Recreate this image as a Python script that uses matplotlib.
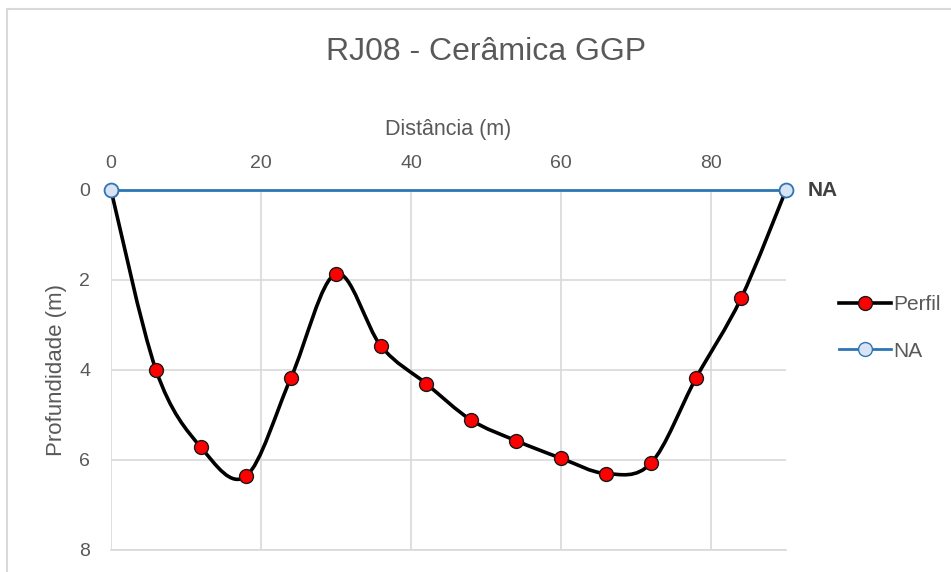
# RJ08 - Ceramica GGP profile chart

import numpy as np
import matplotlib.pyplot as plt
from matplotlib.path import Path
from matplotlib.patches import PathPatch, Rectangle
from matplotlib.lines import Line2D

plt.rcParams['font.family'] = ['Liberation Sans Narrow', 'Liberation Sans', 'DejaVu Sans']

# Data
distancia = [0, 6, 12, 18, 24, 30, 36, 42, 48, 54, 60, 66, 72, 78, 84, 90]
profundidade = [0, 4.0, 5.72, 6.36, 4.17, 1.86, 3.47, 4.30, 5.11, 5.57, 5.96, 6.30, 6.07, 4.18, 2.41, 0]
na_x = [0, 90]
na_y = [0, 0]

x_ticks = [0, 20, 40, 60, 80]
y_ticks = [0, 2, 4, 6, 8]

grey = '#595959'
blue = '#2e75b6'

fig = plt.figure(figsize=(9.51, 5.72), dpi=100)
# chart border
fig.patches.append(Rectangle((7 / 951, -0.1), 1.2, 1 - 9 / 572 + 0.1, transform=fig.transFigure,
                             fill=False, edgecolor='#d9d9d9', linewidth=1.5))

ax = fig.add_axes([111 / 951, 1 - 550 / 572, (786 - 111) / 951, (550 - 190) / 572])

# smoothed line like Excel (cardinal spline drawn as bezier)
x = np.array(distancia, dtype=float)
y = np.array(profundidade, dtype=float)
verts = [(x[0], y[0])]
codes = [Path.MOVETO]
n = len(x)
for i in range(n - 1):
    p0 = np.array([x[max(i - 1, 0)], y[max(i - 1, 0)]])
    p1 = np.array([x[i], y[i]])
    p2 = np.array([x[i + 1], y[i + 1]])
    p3 = np.array([x[min(i + 2, n - 1)], y[min(i + 2, n - 1)]])
    c1 = p1 + (p2 - p0) / 6
    c2 = p2 - (p3 - p1) / 6
    verts += [tuple(c1), tuple(c2), tuple(p2)]
    codes += [Path.CURVE4] * 3
ax.add_patch(PathPatch(Path(verts, codes), facecolor='none', edgecolor='black', linewidth=2.6, zorder=3,
                       capstyle='round', joinstyle='round'))
ax.plot(distancia, profundidade, linestyle='none', marker='o', markersize=10,
        markerfacecolor='#ff0000', markeredgecolor='#1a1a1a', markeredgewidth=1, zorder=4)

ax.plot(na_x, na_y, color=blue, linewidth=2, marker='o', markersize=10,
        markerfacecolor='#dae3f3', markeredgecolor=blue, markeredgewidth=1.3, zorder=5, clip_on=False)
ax.text(na_x[-1] + 2.9, na_y[-1], 'NA', fontsize=15, fontweight='bold', color='#404040', va='center')

ax.set_xlim(0, 90)
ax.set_ylim(8, 0)
ax.set_xticks(x_ticks)
ax.set_yticks(y_ticks)
ax.xaxis.tick_top()
ax.xaxis.set_label_position('top')
ax.tick_params(length=0, labelsize=14, labelcolor=grey)
ax.tick_params(axis='x', pad=13)
ax.tick_params(axis='y', pad=15)
ax.grid(True, color='#d9d9d9', linewidth=1.2)
ax.set_axisbelow(True)
for s in ax.spines.values():
    s.set_visible(False)
ax.axhline(8, color='#d9d9d9', linewidth=1.2, zorder=0, clip_on=False)

ax.set_xlabel('Distância (m)', fontsize=15.5, color=grey, labelpad=14)
ax.set_ylabel('Profundidade (m)', fontsize=16, color=grey, labelpad=9)
fig.text(486 / 951, 1 - 52 / 572, 'RJ08 - Cerâmica GGP', fontsize=23, color=grey, ha='center', va='center')

handles = [Line2D([], [], color='black', linewidth=2.6, marker='o', markersize=10,
                  markerfacecolor='#ff0000', markeredgecolor='#1a1a1a'),
           Line2D([], [], color=blue, linewidth=2, marker='o', markersize=10,
                  markerfacecolor='#dae3f3', markeredgecolor=blue)]
fig.legend(handles, ['Perfil', 'NA'], loc='center left', bbox_to_anchor=(831 / 951, 1 - 328 / 572),
           frameon=False, fontsize=15, labelcolor=grey, handlelength=2.5, handletextpad=0.1,
           labelspacing=1.3, borderaxespad=0)

fig.savefig('out.png', dpi=100)
